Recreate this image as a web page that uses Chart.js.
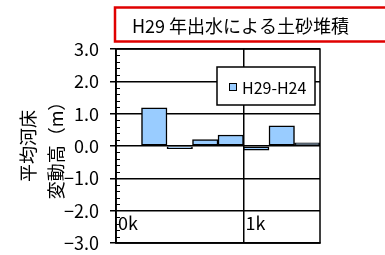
<!DOCTYPE html>
<html>
<head>
<meta charset="utf-8">
<script src="https://cdn.jsdelivr.net/npm/chart.js@4/dist/chart.umd.min.js"></script>
<style>
  html, body { margin: 0; padding: 0; background: #fff; }
  #wrap { width: 385px; height: 255px; }
</style>
</head>
<body>
<div id="wrap"><canvas id="chart" width="385" height="255"></canvas></div>
<script>
// data
const TITLE = "H29 年出水による土砂堆積";
const SERIES_NAME = "H29-H24";
const distanceKm = [0.3, 0.5, 0.7, 0.9, 1.1, 1.3, 1.5];   // bar centres (k)
const changeM = [1.18, -0.08, 0.20, 0.34, -0.13, 0.62, 0.10];
const xTicks = [0, 1];
const xTickLabels = ["0k", "1k"];
const yTitle = ["平均河床", "変動高（m）"];

const JP = "'Noto Sans CJK JP', sans-serif";

const decor = {
  id: "decor",
  afterDraw(chart) {
    const { ctx, chartArea: a, scales: { y } } = chart;
    ctx.save();

    // plot frame
    ctx.strokeStyle = "#000";
    ctx.lineWidth = 1.5;
    ctx.strokeRect(a.left, a.top, a.width, a.height);

    // minor ticks inside the y axis, every 0.2
    ctx.lineWidth = 1;
    ctx.beginPath();
    for (let i = -15; i <= 15; i++) {
      if (i % 5 === 0) continue;
      const py = Math.round(y.getPixelForValue(i / 5)) + 0.5;
      ctx.moveTo(a.left, py);
      ctx.lineTo(a.left + 4, py);
    }
    ctx.stroke();

    // legend box inside plot
    const lx = a.left + 101, ly = a.top + 18;
    ctx.fillStyle = "#fff";
    ctx.fillRect(lx, ly, 98, 38);
    ctx.lineWidth = 1.5;
    ctx.strokeRect(lx, ly, 98, 38);
    const ds = chart.data.datasets[0];
    ctx.fillStyle = ds.backgroundColor;
    ctx.fillRect(lx + 12, ly + 16, 8, 8);
    ctx.lineWidth = 1;
    ctx.strokeRect(lx + 12.5, ly + 16.5, 7, 7);
    ctx.fillStyle = "#000";
    ctx.font = "16px " + JP;
    ctx.textBaseline = "middle";
    ctx.fillText(ds.label, lx + 25, ly + 21);

    // title in a red box
    ctx.strokeStyle = "#e00000";
    ctx.lineWidth = 2.5;
    ctx.strokeRect(115, 7.5, 300, 34);
    ctx.font = "18px " + JP;
    ctx.fillText(TITLE, 132, 26);
    ctx.restore();
  }
};

new Chart(document.getElementById("chart"), {
  type: "bar",
  data: {
    datasets: [{
      label: SERIES_NAME,
      data: distanceKm.map((x, i) => ({ x, y: changeM[i] })),
      backgroundColor: "#99CCFF",
      borderColor: "#000",
      borderWidth: 1.5,
      borderSkipped: false,
      barPercentage: 1,
      categoryPercentage: 1,
    }],
  },
  options: {
    responsive: false,
    animation: false,
    layout: { padding: { left: 0, top: 49, right: 65, bottom: 0 } },
    plugins: { legend: { display: false }, title: { display: false }, tooltip: { enabled: false } },
    scales: {
      x: {
        type: "linear",
        min: 0,
        max: 1.6,
        offset: false,
        afterBuildTicks: (s) => { s.ticks = xTicks.map((v) => ({ value: v })); },
        afterFit: (s) => { s.height = 12; s.paddingLeft = 0; s.paddingRight = 0; },
        grid: { offset: false, color: "#000", lineWidth: 1.5, drawTicks: false },
        border: { color: "#000", width: 1.5 },
        ticks: {
          mirror: true,
          align: "start",
          padding: 9,
          labelOffset: 2,
          autoSkip: false,
          maxRotation: 0,
          color: "#000",
          font: { family: JP, size: 18 },
          callback: (v, i) => xTickLabels[i],
        },
      },
      y: {
        min: -3,
        max: 3,
        afterFit: (s) => { s.width = 116; s.paddingTop = 0; s.paddingBottom = 0; },
        grid: { color: "#000", lineWidth: 1.5, tickLength: 6 },
        border: { color: "#000", width: 1.5 },
        ticks: {
          stepSize: 1,
          padding: 11,
          color: "#000",
          font: { family: JP, size: 18 },
          callback: (v) => v.toFixed(1).replace("-", "−"),
        },
        title: {
          display: true,
          text: yTitle,
          color: "#000",
          font: { family: JP, size: 18, lineHeight: 1.55 },
          padding: { top: 14, bottom: 0 },
        },
      },
    },
  },
  plugins: [decor],
});
</script>
</body>
</html>
